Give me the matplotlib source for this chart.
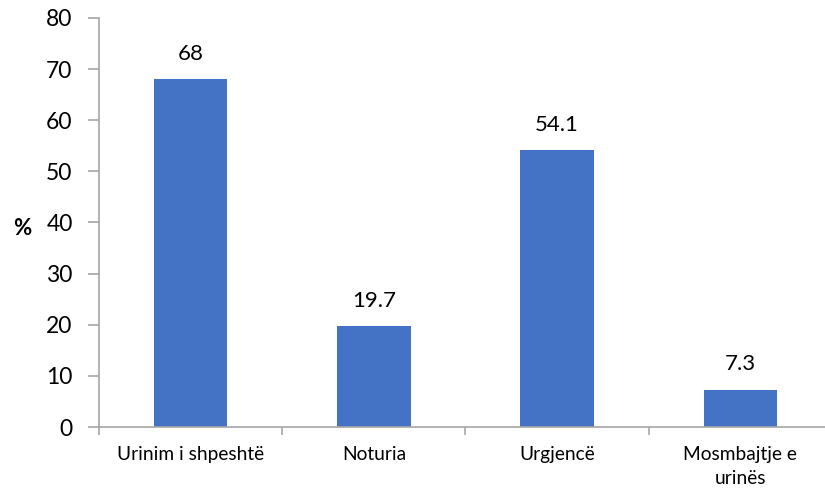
import matplotlib
matplotlib.use("Agg")
import matplotlib.pyplot as plt
import numpy as np

categories = ["Urinim i shpeshtë", "Noturia", "Urgjencë", "Mosmbajtje e\nurinës"]
values = [68, 19.7, 54.1, 7.3]
value_labels = ["68", "19.7", "54.1", "7.3"]
y_ticks = [0, 10, 20, 30, 40, 50, 60, 70, 80]

plt.rcParams["font.family"] = ["Lato", "DejaVu Sans"]

fig = plt.figure(figsize=(8.25, 4.9), dpi=100)
ax = fig.add_axes([99 / 825, 1 - 427 / 490, 733 / 825, 409 / 490])

x = np.arange(len(categories))
bars = ax.bar(x, values, width=0.40, color="#4472C4", zorder=2)

for xi, v, lab in zip(x, values, value_labels):
    ax.annotate(lab, (xi, v), xytext=(0, 11), textcoords="offset points",
                ha="center", va="bottom", fontsize=16, color="#000000")

ax.set_xlim(-0.5, len(categories) - 0.5)
ax.set_ylim(0, 80)
ax.set_yticks(y_ticks)
ax.set_yticklabels([str(t) for t in y_ticks], fontsize=16.5)
ax.tick_params(axis="y", direction="out", length=8, width=1.2, color="#A6A6A6",
               pad=11, labelcolor="#000000")

# category labels at bar centres, tick marks at category boundaries
ax.set_xticks(x)
ax.set_xticklabels(categories, fontsize=13.8, linespacing=1.45)
ax.tick_params(axis="x", which="major", length=0, pad=14, labelcolor="#000000")
ax.set_xticks(np.arange(-0.5, len(categories) + 0.5, 1.0), minor=True)
ax.tick_params(axis="x", which="minor", direction="out", length=6, width=1.2,
               color="#A6A6A6")

for side in ["top", "right"]:
    ax.spines[side].set_visible(False)
for side in ["left", "bottom"]:
    ax.spines[side].set_color("#A6A6A6")
    ax.spines[side].set_linewidth(1.2)

fig.text(22 / 825, 1 - 228 / 490, "%", fontsize=16, fontweight="bold",
         ha="center", va="center", color="#000000")

fig.savefig("out.png", dpi=100)
